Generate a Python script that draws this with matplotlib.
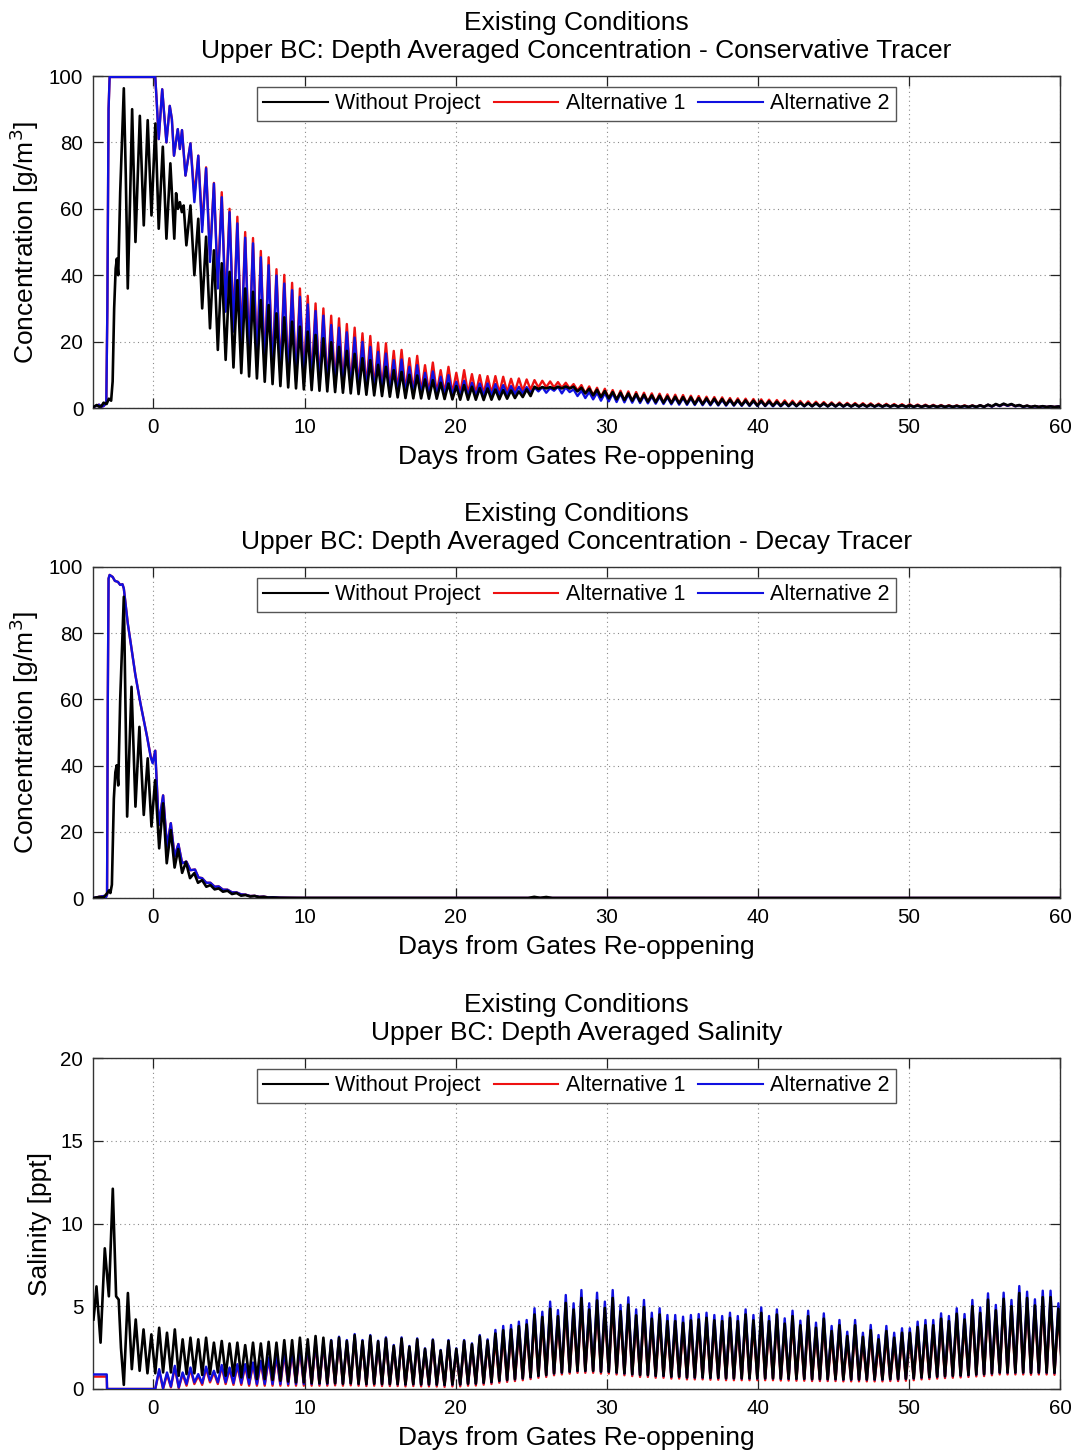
import numpy as np
import matplotlib
matplotlib.use("Agg")
import matplotlib.pyplot as plt
from matplotlib.lines import Line2D

plt.rcParams['font.family'] = ['Liberation Sans', 'DejaVu Sans']

# semidiurnal tidal period (days); model output is summarised by its
# high-water / low-water values on each tidal cycle
TIDE = 0.5175

# ---------------------------------------------------------------------------
# Panel 1: conservative tracer, depth averaged concentration [g/m3]
# ---------------------------------------------------------------------------
cons_first_peak = 2.45

cons_wo_early_t = [-3.97, -3.75, -3.6, -3.45, -3.3, -3.1, -2.95, -2.8, -2.7, -2.6, -2.5, -2.42,
                   -2.33, -2.2, -1.96, -1.83, -1.70, -1.55, -1.41, -1.19, -0.90, -0.64, -0.38,
                   -0.13, 0.13, 0.35, 0.62, 0.86, 1.12, 1.38, 1.5, 1.62, 1.75, 1.88, 2.0, 2.18]
cons_wo_early_v = [0.3, 0.9, 0.4, 0.5, 1.6, 1.2, 2.8, 2.2, 8, 30, 42, 45,
                   40, 65, 96.3, 70, 36, 62, 90, 50, 88, 55, 86.7,
                   58, 85.7, 54, 78.7, 51, 73.7, 51, 64.7, 60, 62, 59, 61, 49]
cons_wo_high = [61, 57, 51.6, 47.5, 43.6, 41, 38.5, 36, 35, 32.5,
                31, 28.5, 27.3, 26, 24.5, 23, 22, 21, 19.8, 18.4,
                17.2, 16.3, 15, 14.4, 13, 12.4, 11.4, 10.9, 10, 9.8,
                8.6, 8.4, 7.6, 7.4, 6.6, 6.9, 6.4, 6.0, 5.9, 5.6,
                5.4, 5.3, 5.0, 5.6, 6.4, 6.3, 6.3, 6.4, 6.5, 6.4,
                6.1, 5.8, 5.5, 5.1, 4.8, 4.6, 4.4, 4.2, 4.0, 3.8,
                3.7, 3.5, 3.4, 3.3, 3.2, 3.0, 2.9, 2.8, 2.7, 2.5,
                2.4, 2.3, 2.2, 2.1, 2.0, 1.9, 1.8, 1.7, 1.6, 1.5,
                1.45, 1.4, 1.35, 1.3, 1.2, 1.15, 1.1, 1.05, 1.0, 0.95,
                0.9, 0.85, 0.8, 0.78, 0.75, 0.72, 0.7, 0.68, 0.66, 0.65,
                0.7, 0.8, 1.0, 1.2, 1.3, 1.2, 0.9, 0.7, 0.6, 0.55, 0.5, 0.45]
cons_wo_low = [40, 30, 24, 17.5, 14.5, 12.2, 10.5, 9.5, 8.9, 7.9,
               7.2, 6.6, 6.2, 5.9, 5.6, 5.4, 5.2, 5.0, 4.8, 4.6,
               4.4, 4.2, 4.0, 3.8, 3.6, 3.4, 3.2, 3.0, 2.9, 2.9,
               2.8, 2.8, 2.7, 2.6, 2.5, 2.5, 2.5, 2.4, 2.5, 2.6,
               2.8, 3.0, 3.3, 3.6, 5.7, 5.9, 5.8, 5.9, 5.9, 5.0,
               4.4, 3.8, 3.3, 2.9, 2.6, 2.4, 2.2, 2.0, 1.9, 1.75,
               1.6, 1.5, 1.4, 1.3, 1.2, 1.15, 1.1, 1.0, 0.95, 0.9,
               0.85, 0.8, 0.75, 0.7, 0.68, 0.65, 0.62, 0.6, 0.58, 0.55,
               0.53, 0.5, 0.5, 0.48, 0.46, 0.45, 0.44, 0.43, 0.42, 0.41,
               0.4, 0.38, 0.37, 0.36, 0.35, 0.34, 0.33, 0.33, 0.32, 0.32,
               0.33, 0.35, 0.5, 0.7, 0.8, 0.6, 0.4, 0.33, 0.32, 0.31, 0.3, 0.3]

# both alternatives share the same response before the gates re-open
cons_alt_early_t = [-3.97, -3.6, -3.45, -3.3, -3.12, -3.05, -2.97, -2.9, 0.0, 0.12, 0.22,
                    0.35, 0.58, 0.86, 1.08, 1.22, 1.36, 1.61, 1.75, 1.89, 2.12]
cons_alt_early_v = [0.3, 1.0, 0.4, 0.6, 1.5, 30, 90, 99.7, 99.7, 99.7, 92,
                    81, 96, 80, 91, 87, 76, 84, 78, 83.7, 70]
cons_a1_high = [79.7, 76, 72.5, 67.8, 65, 60, 57.6, 53, 51.2, 47.3,
                45.4, 41.8, 40.1, 37.7, 36, 33.8, 31.5, 30, 27.8, 27,
                25.3, 24.2, 22.5, 21.7, 19.7, 19.5, 17.2, 17.5, 15.0, 15.7,
                12.9, 13.7, 11.4, 12.4, 10.6, 11.4, 10.2, 9.9, 9.6, 9.6,
                9.4, 8.8, 8.9, 8.6, 8.4, 8.2, 8.0, 7.8, 7.6, 7.2,
                6.9, 6.5, 6.1, 5.8, 5.4, 5.2, 5.0, 4.8, 4.6, 4.4,
                4.3, 4.1, 4.0, 3.9, 3.7, 3.6, 3.4, 3.3, 3.2, 3.0,
                2.9, 2.8, 2.7, 2.6, 2.5, 2.4, 2.3, 2.2, 2.1, 2.0,
                1.9, 1.8, 1.7, 1.65, 1.55, 1.5, 1.45, 1.4, 1.3, 1.25,
                1.2, 1.15, 1.1, 1.05, 1.0, 0.95, 0.9, 0.85, 0.8, 0.8,
                0.8, 0.85, 0.95, 1.05, 1.1, 1.0, 0.85, 0.7, 0.6, 0.55, 0.5, 0.5]
cons_a1_low = [64, 55, 46, 38, 31, 25, 20, 16.5, 14, 12.3,
               11.2, 10.3, 9.6, 9.0, 8.5, 8.0, 7.6, 7.2, 6.9, 6.6,
               6.3, 6.1, 5.9, 5.7, 5.5, 5.3, 5.1, 5.0, 4.8, 4.7,
               4.6, 4.5, 4.4, 4.4, 4.3, 4.3, 4.3, 4.3, 4.4, 4.5,
               4.7, 4.9, 5.2, 5.5, 6.2, 6.3, 6.2, 6.1, 5.9, 5.3,
               4.4, 3.8, 3.2, 2.8, 2.4, 2.2, 2.0, 1.9, 1.8, 1.7,
               1.6, 1.5, 1.4, 1.3, 1.2, 1.15, 1.1, 1.0, 0.95, 0.9,
               0.85, 0.8, 0.8, 0.75, 0.7, 0.68, 0.65, 0.62, 0.6, 0.58,
               0.55, 0.53, 0.5, 0.48, 0.46, 0.45, 0.44, 0.43, 0.42, 0.41,
               0.4, 0.38, 0.37, 0.36, 0.35, 0.34, 0.33, 0.33, 0.32, 0.32,
               0.33, 0.35, 0.45, 0.6, 0.7, 0.55, 0.4, 0.33, 0.32, 0.31, 0.3, 0.3]
cons_a2_high = [79.7, 76, 72.2, 67.6, 63.5, 59, 55.6, 51.3, 49.6, 45.4,
                43, 39.9, 37.5, 35.5, 33.5, 31.2, 29.2, 27.8, 25, 24.2,
                22.8, 21.2, 19.9, 18.4, 16.9, 16.4, 14.4, 14.6, 12.4, 12.9,
                10.6, 11.0, 9.4, 9.9, 7.9, 8.2, 7.6, 7.4, 7.4, 7.2,
                6.9, 6.6, 6.4, 6.3, 6.2, 6.3, 6.0, 6.4, 6.2, 5.6,
                5.2, 4.8, 4.6, 4.5, 4.4, 4.3, 4.1, 3.9, 3.7, 3.5,
                3.4, 3.2, 3.1, 3.0, 2.9, 2.8, 2.6, 2.5, 2.4, 2.3,
                2.2, 2.1, 2.0, 1.9, 1.8, 1.7, 1.6, 1.55, 1.5, 1.4,
                1.35, 1.3, 1.25, 1.2, 1.1, 1.05, 1.0, 0.95, 0.9, 0.88,
                0.85, 0.8, 0.75, 0.72, 0.7, 0.68, 0.65, 0.63, 0.62, 0.6,
                0.65, 0.75, 0.95, 1.1, 1.2, 1.1, 0.85, 0.65, 0.55, 0.5, 0.45, 0.45]
cons_a2_low = [62, 53, 44, 36, 29, 23, 18.5, 15, 12.5, 11,
               10, 9.2, 8.6, 8.0, 7.5, 7.1, 6.7, 6.4, 6.1, 5.8,
               5.6, 5.4, 5.2, 5.0, 4.8, 4.7, 4.5, 4.4, 4.2, 4.1,
               4.0, 3.9, 3.8, 3.8, 3.7, 3.7, 3.7, 3.7, 3.8, 3.9,
               4.0, 4.2, 4.4, 4.6, 5.0, 4.6, 5.2, 4.4, 4.8, 3.6,
               3.0, 2.6, 2.2, 2.0, 1.8, 1.7, 1.6, 1.5, 1.4, 1.3,
               1.2, 1.1, 1.0, 0.95, 0.9, 0.85, 0.8, 0.75, 0.7, 0.7,
               0.65, 0.6, 0.6, 0.55, 0.5, 0.5, 0.5, 0.5, 0.5, 0.5,
               0.48, 0.46, 0.45, 0.44, 0.43, 0.42, 0.41, 0.4, 0.4, 0.4,
               0.38, 0.36, 0.35, 0.34, 0.33, 0.32, 0.31, 0.31, 0.3, 0.3,
               0.31, 0.33, 0.4, 0.55, 0.65, 0.5, 0.35, 0.31, 0.3, 0.3, 0.29, 0.28]

# ---------------------------------------------------------------------------
# Panel 2: decay tracer, depth averaged concentration [g/m3]
# ---------------------------------------------------------------------------
decay_wo_t = [-3.97, -3.6, -3.3, -3.05, -2.95, -2.85, -2.75, -2.62, -2.52, -2.43, -2.33, -2.2,
              -1.96, -1.74, -1.45, -1.19, -0.93, -0.64, -0.38, -0.13, 0.11, 0.38, 0.64, 0.88,
              1.15, 1.40, 1.64, 1.90, 2.15, 2.42, 2.7, 2.95, 3.22, 3.5, 3.77, 4.05, 4.32, 4.6,
              4.9, 5.2, 5.5, 5.8, 6.1, 6.4, 6.7, 7.0, 7.3, 7.6, 7.9, 8.4, 9.5,
              24.8, 25.2, 25.6, 26.0, 26.4, 60.0]
decay_wo_v = [0.0, 0.3, 0.2, 1.5, 2.3, 1.5, 4, 30, 38, 40.1, 34, 60,
              91.0, 24.6, 63.8, 27.6, 51.7, 25.1, 42.2, 21.6, 35.6, 15.0, 28.6, 10.5,
              20.5, 9.2, 14.8, 7.6, 10.9, 6.0, 7.5, 4.6, 5.4, 3.4, 3.9, 2.6, 2.9, 1.9,
              2.2, 1.2, 1.5, 0.7, 0.9, 0.45, 0.6, 0.25, 0.35, 0.12, 0.15, 0.05, 0.02,
              0.0, 0.35, 0.05, 0.3, 0.0, 0.0]
decay_alt_t = [-3.97, -3.3, -3.15, -3.07, -3.02, -2.97, -2.9, -2.7, -2.55, -2.35, -2.2, -2.05,
               -1.96, -1.7, -1.5, -1.2, -0.86, -0.42, -0.18, -0.05, 0.12, 0.35, 0.64, 0.90,
               1.15, 1.40, 1.65, 1.90, 2.18, 2.45, 2.75, 2.98, 3.22, 3.5, 3.77, 4.05, 4.32,
               4.6, 4.9, 5.2, 5.5, 5.8, 6.1, 6.4, 6.7, 7.0, 7.3, 7.6, 7.9, 8.3, 9.0, 10.0, 60.0]
decay_a1_v = [0.0, 0.6, 0.2, 1.0, 60, 96.5, 97.6, 97.0, 95.8, 95.5, 94.6, 94.8,
              93.5, 83, 76.9, 67.5, 58.8, 48.7, 42.8, 41.0, 44.5, 22.0, 31.0, 15.5,
              22.6, 12.5, 16.3, 10.5, 11.0, 8.4, 8.6, 6.2, 6.0, 4.6, 4.6, 3.4, 3.5,
              2.5, 2.5, 1.7, 1.7, 1.1, 1.0, 0.6, 0.65, 0.35, 0.4, 0.2, 0.22, 0.1, 0.05, 0.02, 0.0]
decay_a2_v = [0.0, 0.6, 0.2, 1.0, 60, 96.5, 97.6, 97.0, 95.8, 95.5, 94.6, 94.8,
              93.5, 83, 76.9, 67.5, 58.8, 48.7, 42.5, 40.7, 44.5, 22.0, 31.0, 15.5,
              22.6, 12.5, 16.3, 10.5, 11.0, 8.4, 8.6, 6.2, 6.0, 4.6, 4.6, 3.4, 3.5,
              2.5, 2.5, 1.7, 1.7, 1.1, 1.0, 0.6, 0.65, 0.35, 0.4, 0.2, 0.22, 0.1, 0.05, 0.02, 0.0]

# ---------------------------------------------------------------------------
# Panel 3: depth averaged salinity [ppt]
# ---------------------------------------------------------------------------
sal_first_peak = -1.69

sal_wo_early_t = [-3.97, -3.9, -3.77, -3.5, -3.22, -2.95, -2.69, -2.47, -2.3, -2.15, -1.96]
sal_wo_early_v = [4.2, 4.8, 6.2, 2.8, 8.5, 5.6, 12.1, 5.6, 5.4, 2.5, 0.25]
sal_wo_high = [5.8, 4.2, 3.6, 3.3, 3.7, 3.4, 3.6, 3.0, 3.1, 3.0,
               3.1, 2.8, 2.9, 2.75, 2.8, 2.65, 2.8, 2.75, 2.85, 2.8,
               2.95, 2.95, 3.1, 3.0, 3.2, 3.1,
               2.92, 3.1, 2.9, 3.25, 2.9, 3.2, 2.88, 3.05, 2.6, 3.05,
               2.55, 3.0, 2.42, 2.95, 2.32, 2.9, 2.42, 2.9, 2.7, 3.18, 2.92,
               3.35, 3.55, 3.6, 3.8, 3.9, 4.5, 4.35, 4.85, 4.4, 5.2,
               4.8, 5.5, 4.8, 5.35, 4.9, 5.5, 4.7, 5.1, 4.45, 4.95,
               4.25, 4.5, 4.1, 4.1, 4.0,
               4.15, 4.2, 4.3, 4.15, 4.1, 4.3, 4.1, 4.5, 4.15, 4.6,
               4.1, 4.5, 3.95, 4.4, 3.85, 4.4, 3.7, 4.25, 3.5, 3.85,
               3.2, 3.85, 3.15, 3.55, 3.0, 3.5, 3.1, 3.4, 3.4, 3.75,
               3.85, 3.85, 4.25, 4.1, 4.55, 4.2, 5.0, 4.6, 5.4, 4.75,
               5.45, 5.0, 5.8, 5.5, 5.05, 5.55, 5.55, 4.85]
sal_wo_low = [1.2, 1.1, 0.95, 0.95, 1.0, 1.0, 0.8, 0.9, 0.95, 0.85,
              0.9, 1.0, 0.8, 0.8, 0.7, 0.7, 0.6, 0.6, 0.55, 0.5,
              0.45, 0.4, 0.4, 0.35, 0.35, 0.35,
              0.35, 0.32, 0.35, 0.32, 0.3, 0.32, 0.3, 0.3, 0.3, 0.28,
              0.3, 0.28, 0.28, 0.27, 0.25, 0.28, 0.28, 0.32, 0.33, 0.38, 0.42,
              0.5, 0.55, 0.6, 0.65, 0.72, 0.8, 0.85, 0.95, 1.0, 1.05,
              1.1, 1.1, 1.1, 1.05, 1.05, 1.0, 0.95, 0.9, 0.85, 0.85, 0.8, 0.8,
              0.75, 0.75, 0.7, 0.7, 0.7, 0.68, 0.68, 0.65, 0.65, 0.65,
              0.65, 0.65, 0.65, 0.65, 0.63, 0.63, 0.62, 0.62, 0.6, 0.6,
              0.6, 0.6, 0.58, 0.58, 0.58, 0.58, 0.58, 0.58, 0.6, 0.6,
              0.62, 0.65, 0.7, 0.72, 0.75, 0.78, 0.8, 0.82, 0.85, 0.88,
              0.9, 0.95, 1.0, 1.0, 1.0, 1.0, 0.98, 1.0, 1.0, 0.98, 0.98]

sal_alt_early_t = [-3.97, -3.09, -3.07, -1.96]
sal_a1_early_v = [0.75, 0.75, 0.0, 0.0]
sal_a2_early_v = [0.88, 0.88, 0.0, 0.0]
sal_a1_high = [0, 0, 0, 0,
               1.1, 0.9, 1.3, 0.9, 1.2, 0.8, 1.25, 1.0, 1.35, 1.2,
               1.4, 1.4, 1.5, 1.6, 1.8, 1.95, 2.15, 2.25, 2.45, 2.55, 2.75, 2.75,
               2.77, 2.95, 2.75, 3.1, 2.75, 3.05, 2.73, 2.9, 2.45, 2.9,
               2.4, 2.85, 2.27, 2.8, 2.17, 2.75, 2.27, 2.75, 2.55, 3.0, 2.75,
               3.05, 3.25, 3.3, 3.5, 3.6, 4.2, 4.05, 4.5, 4.1, 4.85,
               4.5, 5.15, 4.5, 5.0, 4.6, 5.15, 4.4, 4.8, 4.15, 4.65,
               3.95, 4.2, 3.8, 3.8, 3.7,
               3.85, 3.9, 4.0, 3.85, 3.8, 4.0, 3.8, 4.2, 3.85, 4.3,
               3.8, 4.2, 3.65, 4.1, 3.55, 4.1, 3.4, 3.95, 3.2, 3.55,
               2.9, 3.55, 2.85, 3.25, 2.7, 3.2, 2.8, 3.1, 3.1, 3.45,
               3.55, 3.55, 3.95, 3.8, 4.25, 3.9, 4.7, 4.3, 5.1, 4.45,
               5.15, 4.7, 5.5, 5.2, 4.75, 5.25, 5.25, 4.55]
sal_a1_low = [0, 0, 0, 0,
              0.0, 0.1, 0.05, 0.2, 0.3, 0.25, 0.4, 0.3, 0.3, 0.25,
              0.25, 0.2, 0.2, 0.2, 0.2, 0.2, 0.2, 0.2, 0.2, 0.2, 0.2, 0.2,
              0.22, 0.2, 0.22, 0.2, 0.18, 0.2, 0.18, 0.18, 0.18, 0.16,
              0.18, 0.16, 0.16, 0.15, 0.13, 0.16, 0.16, 0.2, 0.21, 0.26, 0.3,
              0.38, 0.43, 0.48, 0.53, 0.6, 0.68, 0.73, 0.83, 0.88, 0.93,
              0.98, 0.98, 0.98, 0.93, 0.93, 0.88, 0.83, 0.78, 0.73, 0.73, 0.68, 0.68,
              0.63, 0.63, 0.58, 0.58, 0.58, 0.56, 0.56, 0.53, 0.53, 0.53,
              0.53, 0.53, 0.53, 0.53, 0.51, 0.51, 0.5, 0.5, 0.48, 0.48,
              0.48, 0.48, 0.46, 0.46, 0.46, 0.46, 0.46, 0.46, 0.48, 0.48,
              0.5, 0.53, 0.58, 0.6, 0.63, 0.66, 0.68, 0.7, 0.73, 0.76,
              0.78, 0.83, 0.88, 0.88, 0.88, 0.88, 0.86, 0.88, 0.88, 0.86, 0.86]
sal_a2_high = [0, 0, 0, 0,
               1.2, 1.0, 1.4, 1.0, 1.3, 0.9, 1.35, 1.1, 1.45, 1.3,
               1.5, 1.5, 1.6, 1.7, 1.9, 2.1, 2.3, 2.4, 2.6, 2.7, 2.9, 2.9,
               2.96, 3.16, 2.96, 3.32, 2.96, 3.26, 2.92, 3.12, 2.66, 3.12,
               2.60, 3.06, 2.46, 3.00, 2.36, 2.96, 2.46, 2.96, 2.76, 3.26, 3.00,
               3.57, 3.81, 3.87, 4.07, 4.17, 4.88, 4.67, 5.28, 4.77, 5.68,
               5.18, 5.98, 5.18, 5.82, 5.28, 5.98, 5.08, 5.54, 4.81, 5.38,
               4.61, 4.88, 4.47, 4.47, 4.37,
               4.47, 4.53, 4.61, 4.47, 4.41, 4.61, 4.41, 4.81, 4.47, 4.93,
               4.41, 4.81, 4.27, 4.73, 4.13, 4.73, 4.01, 4.57, 3.81, 4.17,
               3.46, 4.17, 3.40, 3.87, 3.26, 3.81, 3.40, 3.67, 3.67, 4.07,
               4.17, 4.17, 4.57, 4.41, 4.88, 4.53, 5.38, 4.93, 5.78, 5.08,
               5.82, 5.38, 6.22, 5.88, 5.42, 5.94, 5.94, 5.18]
sal_a2_low = [0, 0, 0, 0,
              0.05, 0.15, 0.1, 0.3, 0.4, 0.35, 0.5, 0.4, 0.4, 0.35,
              0.35, 0.3, 0.3, 0.3, 0.3, 0.3, 0.3, 0.3, 0.3, 0.3, 0.3, 0.3,
              0.33, 0.3, 0.33, 0.3, 0.28, 0.3, 0.28, 0.28, 0.28, 0.26,
              0.28, 0.26, 0.26, 0.25, 0.23, 0.26, 0.26, 0.3, 0.31, 0.36, 0.4,
              0.48, 0.53, 0.58, 0.63, 0.7, 0.78, 0.83, 0.93, 0.98, 1.03,
              1.08, 1.08, 1.08, 1.03, 1.03, 0.98, 0.93, 0.88, 0.83, 0.83, 0.78, 0.78,
              0.73, 0.73, 0.68, 0.68, 0.68, 0.66, 0.66, 0.63, 0.63, 0.63,
              0.63, 0.63, 0.63, 0.63, 0.61, 0.61, 0.6, 0.6, 0.58, 0.58,
              0.58, 0.58, 0.56, 0.56, 0.56, 0.56, 0.56, 0.56, 0.58, 0.58,
              0.6, 0.63, 0.68, 0.7, 0.73, 0.76, 0.78, 0.8, 0.83, 0.86,
              0.88, 0.93, 0.98, 0.98, 0.98, 0.98, 0.96, 0.98, 0.98, 0.96, 0.96]

series_labels = ["Without Project", "Alternative 1", "Alternative 2"]
titles = ["Existing Conditions\nUpper BC: Depth Averaged Concentration - Conservative Tracer",
          "Existing Conditions\nUpper BC: Depth Averaged Concentration - Decay Tracer",
          "Existing Conditions\nUpper BC: Depth Averaged Salinity"]
ylabels = ["Concentration [g/m$^3$]", "Concentration [g/m$^3$]", "Salinity [ppt]"]
xlabel = "Days from Gates Re-oppening"
x_ticks = [0, 10, 20, 30, 40, 50, 60]
y_ticks = [[0, 20, 40, 60, 80, 100], [0, 20, 40, 60, 80, 100], [0, 5, 10, 15, 20]]


def tidal_record(early_t, early_v, first_peak, highs, lows):
    """Join an explicit early record with alternating high/low water values."""
    n = min(len(highs), len(lows))
    k = np.arange(n)
    t_high = first_peak + k * TIDE
    t = np.empty(2 * n)
    v = np.empty(2 * n)
    t[0::2] = t_high
    t[1::2] = t_high + TIDE / 2
    v[0::2] = highs[:n]
    v[1::2] = lows[:n]
    return np.concatenate([early_t, t]), np.concatenate([early_v, v])


panels = [
    [tidal_record(cons_wo_early_t, cons_wo_early_v, cons_first_peak, cons_wo_high, cons_wo_low),
     tidal_record(cons_alt_early_t, cons_alt_early_v, cons_first_peak, cons_a1_high, cons_a1_low),
     tidal_record(cons_alt_early_t, cons_alt_early_v, cons_first_peak, cons_a2_high, cons_a2_low)],
    [(np.array(decay_wo_t), np.array(decay_wo_v)),
     (np.array(decay_alt_t), np.array(decay_a1_v)),
     (np.array(decay_alt_t), np.array(decay_a2_v))],
    [tidal_record(sal_wo_early_t, sal_wo_early_v, sal_first_peak, sal_wo_high, sal_wo_low),
     tidal_record(sal_alt_early_t, sal_a1_early_v, sal_first_peak, sal_a1_high, sal_a1_low),
     tidal_record(sal_alt_early_t, sal_a2_early_v, sal_first_peak, sal_a2_high, sal_a2_low)],
]
colors = ["black", "#ee1111", "#1010e0"]
widths = [1.9, 1.7, 1.7]
zorders = [4, 2, 3]

W, H = 1078, 1452
fig = plt.figure(figsize=(W / 100, H / 100), dpi=100)
ax_left, ax_right = 93, 1060
ax_boxes = [(76, 408), (567, 898), (1058, 1389)]

for i, (top, bottom) in enumerate(ax_boxes):
    ax = fig.add_axes([ax_left / W, 1 - bottom / H, (ax_right - ax_left) / W, (bottom - top) / H])
    for j, (t, v) in enumerate(panels[i]):
        ax.plot(t, v, color=colors[j], lw=widths[j], zorder=zorders[j], solid_joinstyle='round')
    ax.set_xlim(-4, 60)
    ax.set_ylim(y_ticks[i][0], y_ticks[i][-1])
    ax.set_xticks(x_ticks)
    ax.set_yticks(y_ticks[i])
    ax.tick_params(direction='in', top=True, right=True, length=7, width=0.9,
                   labelsize=14.8, pad=7, colors='#222222', labelcolor='black')
    ax.grid(True, linestyle=(0, (1, 3)), color='#8a8a8a', linewidth=0.8)
    ax.set_axisbelow(True)
    for s in ax.spines.values():
        s.set_color('#333333')
        s.set_linewidth(1.0)
    ax.set_title(titles[i], fontsize=19, pad=13, linespacing=1.2)
    ax.set_xlabel(xlabel, fontsize=19, labelpad=6)
    ax.set_ylabel(ylabels[i], fontsize=19, labelpad=6)
    leg_handles = [Line2D([0], [0], color=c, lw=1.5) for c in colors]
    leg = ax.legend(leg_handles, series_labels, loc='upper center', bbox_to_anchor=(0.5, 1.0),
                    ncol=3, fontsize=15.5, frameon=True, fancybox=False, framealpha=1,
                    edgecolor='#555555', handlelength=3.0, handletextpad=0.35,
                    columnspacing=0.6, borderpad=0.3, borderaxespad=0.5)
    leg.get_frame().set_linewidth(1.0)
    leg.set_zorder(10)

fig.savefig("out.png", dpi=100)
